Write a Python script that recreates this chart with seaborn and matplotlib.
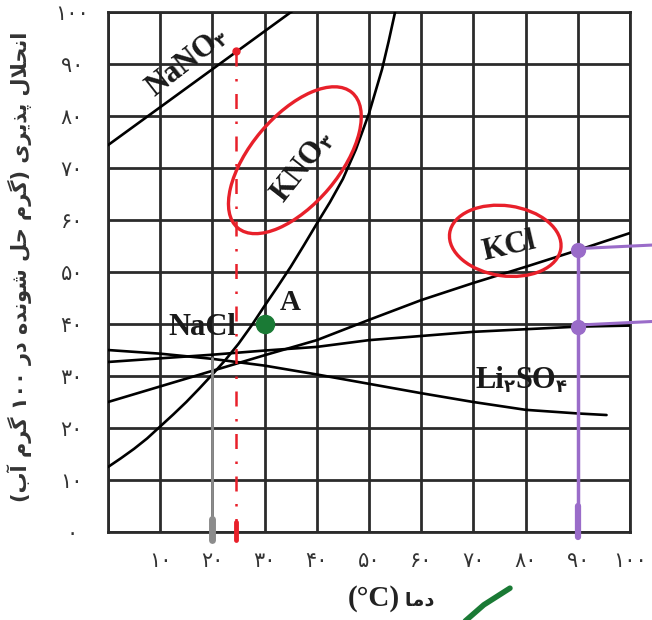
import re
import numpy as np
import pandas as pd
import matplotlib
matplotlib.use("Agg")
import matplotlib.pyplot as plt
import seaborn as sns
from matplotlib.patches import Ellipse
from matplotlib.transforms import offset_copy

# ================= DADOS =================
NANO3_T = [0, 10, 20, 30, 40]
NANO3_S = [74.4, 81.7, 89.0, 96.3, 103.6]

KNO3_T = [0, 2.5, 5, 7.5, 10, 12.5, 15, 17.5, 20, 22.5, 25, 27.5, 30, 32.5, 35,
          37.5, 40, 42.5, 45, 47.5, 50, 52.5, 53.75, 55]
KNO3_S = [12.5, 14.2, 16.0, 18.0, 20.3, 22.6, 25.0, 27.6, 30.3, 33.1, 36.2, 39.7,
          43.5, 47.2, 51.0, 55.1, 59.3, 63.4, 67.9, 73.6, 80.5, 89.0, 94.3, 100.0]

KCL_T = [0, 10, 20, 30, 40, 50, 60, 70, 80, 90, 100]
KCL_S = [25.0, 28.0, 31.0, 34.0, 36.9, 40.8, 44.6, 47.9, 51.0, 54.2, 57.5]

NACL_T = [0, 10, 20, 30, 40, 50, 60, 70, 80, 90, 100]
NACL_S = [32.7, 33.4, 34.1, 34.9, 35.6, 36.9, 37.7, 38.5, 39.0, 39.5, 39.7]

LI2SO4_T = [0, 10, 20, 30, 40, 50, 60, 70, 80, 90, 95.5]
LI2SO4_S = [35.0, 34.3, 33.3, 32.0, 30.3, 28.5, 26.7, 25.0, 23.5, 22.8, 22.5]

X_TICKS = [10, 20, 30, 40, 50, 60, 70, 80, 90, 100]
Y_TICKS = [0, 10, 20, 30, 40, 50, 60, 70, 80, 90, 100]

# anotações feitas à mão sobre a figura
PONTO_A = (30, 40)
GUIA_VERMELHA_T = 24.5
GUIA_VERMELHA_S = (92.5, -1.5)
GUIA_CINZA_T = 20
GUIA_CINZA_S = (33.5, -1.5)
GUIA_ROXA_T = 90
GUIA_ROXA_S = (54.6, -1.0)
PONTOS_ROXOS_S = [54.2, 39.5]
ROXO_FIM_T = 104.5
TRACO_VERDE_T = [68, 72, 77]
TRACO_VERDE_S = [-17.5, -14.0, -10.8]

# ================= TEXTO PERSA =================
DIGITOS_FA = '۰۱۲۳۴۵۶۷۸۹'

def fa_num(n):
    return ''.join(DIGITOS_FA[int(d)] for d in str(n))

# formas: (isolada, final, inicial, medial)
FORMAS = {
    'ا': ('\ufe8d', '\ufe8e'),
    'آ': ('\ufe81', '\ufe82'),
    'ب': ('\ufe8f', '\ufe90', '\ufe91', '\ufe92'),
    'پ': ('\ufb56', '\ufb57', '\ufb58', '\ufb59'),
    'ح': ('\ufea1', '\ufea2', '\ufea3', '\ufea4'),
    'د': ('\ufea9', '\ufeaa'),
    'ذ': ('\ufeab', '\ufeac'),
    'ر': ('\ufead', '\ufeae'),
    'ش': ('\ufeb5', '\ufeb6', '\ufeb7', '\ufeb8'),
    'گ': ('\ufb92', '\ufb93', '\ufb94', '\ufb95'),
    'ل': ('\ufedd', '\ufede', '\ufedf', '\ufee0'),
    'م': ('\ufee1', '\ufee2', '\ufee3', '\ufee4'),
    'ن': ('\ufee5', '\ufee6', '\ufee7', '\ufee8'),
    'ه': ('\ufee9', '\ufeea', '\ufeeb', '\ufeec'),
    'و': ('\ufeed', '\ufeee'),
    'ی': ('\ufbfc', '\ufbfd', '\ufbfe', '\ufbff'),
}
LAM_ALEF = {'ا': ('\ufefb', '\ufefc'), 'آ': ('\ufef5', '\ufef6')}

def shape_fa(texto):
    """Liga as letras persas e devolve o texto em ordem visual (esq -> dir)."""
    out = []
    i = 0
    while i < len(texto):
        c = texto[i]
        if c not in FORMAS:
            out.append(c)
            i += 1
            continue
        ant = texto[i - 1] if i > 0 else ''
        liga_ant = ant in FORMAS and len(FORMAS[ant]) == 4
        prox = texto[i + 1] if i + 1 < len(texto) else ''
        if c == 'ل' and prox in LAM_ALEF:
            out.append(LAM_ALEF[prox][1 if liga_ant else 0])
            i += 2
            continue
        f = FORMAS[c]
        liga_prox = len(f) == 4 and prox in FORMAS
        if liga_ant and liga_prox:
            out.append(f[3])
        elif liga_ant:
            out.append(f[1])
        elif liga_prox:
            out.append(f[2])
        else:
            out.append(f[0])
        i += 1
    vis = ''.join(reversed(out))
    vis = re.sub('[۰-۹]+', lambda m: m.group(0)[::-1], vis)
    return vis.translate(str.maketrans('()', ')('))

# ================= PLOTAGEM =================
sns.set_theme(style="white")
plt.rcParams['font.family'] = ['DejaVu Sans']
SERIF = ['Liberation Serif', 'DejaVu Sans']

fig = plt.figure(figsize=(6.52, 6.2), dpi=100)
ax = fig.add_axes([0.1656, 0.1419, 0.8007, 0.8387])


def rotulo(x, y, partes, angulo=0, **kw):
    """Escreve pedaços de texto em sequência (com índices rebaixados),
    centrados na linha de base em (x, y). partes: (texto, tamanho, queda_px)."""
    r = fig.canvas.get_renderer()
    larg = []
    for txt, tam, _ in partes:
        t = ax.text(0, 0, txt, fontsize=tam, **kw)
        larg.append(t.get_window_extent(r).width)
        t.remove()
    ux, uy = np.cos(np.deg2rad(angulo)), np.sin(np.deg2rad(angulo))
    pos = -sum(larg) / 2
    for (txt, tam, queda), w in zip(partes, larg):
        tr = offset_copy(ax.transData, fig=fig, x=pos * ux + queda * uy,
                         y=pos * uy - queda * ux, units='dots')
        ax.text(x, y, txt, fontsize=tam, rotation=angulo, rotation_mode='anchor',
                ha='left', va='baseline', transform=tr, clip_on=False, **kw)
        pos += w


cor_grade = '#2b2b2b'
ax.set_xlim(0, 100)
ax.set_ylim(0, 100)
ax.set_xticks(X_TICKS)
ax.set_yticks(Y_TICKS)
ax.set_xticks([0], minor=True)
ax.grid(True, which='both', color=cor_grade, linewidth=2.0)
for sp in ax.spines.values():
    sp.set_color(cor_grade)
    sp.set_linewidth(2.0)

curvas = [(NANO3_T, NANO3_S), (KNO3_T, KNO3_S), (KCL_T, KCL_S),
          (NACL_T, NACL_S), (LI2SO4_T, LI2SO4_S)]
for t, s in curvas:
    sns.lineplot(x=t, y=s, ax=ax, color='black', linewidth=1.9, zorder=3)

ax.set_xticklabels([fa_num(v) for v in X_TICKS])
ax.set_yticklabels([fa_num(v) for v in Y_TICKS], ha='center')
ax.tick_params(axis='x', length=0, pad=14, labelsize=15, labelcolor='#333333')
ax.tick_params(axis='y', length=0, pad=26, labelsize=15, labelcolor='#333333')

ax.set_ylabel(shape_fa('انحلال پذیری (گرم حل شونده در ۱۰۰ گرم آب)'),
              fontsize=15, fontweight='bold', color='#333333')
ax.yaxis.set_label_coords(-0.146, 0.51)

# rótulo do eixo x: (°C) em serifa grande + دما menor
rotulo(54.2, -14.2, [('(°C)', 21, 0), (' ' + shape_fa('دما'), 14, 0)],
       family=SERIF, fontweight='bold', color='#222222')

# rótulos das curvas
estilo = dict(family=SERIF, fontweight='bold', color='#1a1a1a', zorder=4)
rotulo(15.9, 89.2, [('NaNO', 22, 0), ('۳', 13, 3)], angulo=38, **estilo)
rotulo(38.3, 69.4, [('KNO', 22, 0), ('۳', 13, 3)], angulo=52, **estilo)
rotulo(77.2, 53.5, [('KCl', 22, 0)], angulo=13, **estilo)
rotulo(18.0, 37.9, [('NaCl', 22, 0)], **estilo)
rotulo(79.1, 27.7, [('Li', 22, 0), ('۲', 13, 4), ('SO', 22, 0), ('۴', 13, 4)], **estilo)
rotulo(35.0, 42.7, [('A', 21, 0)], **estilo)

# anotações à mão
vermelho = '#e8202a'
ax.plot([GUIA_VERMELHA_T] * 2, GUIA_VERMELHA_S, color=vermelho, linewidth=1.8,
        linestyle=(0, (6, 5, 1, 5)), clip_on=False, zorder=5)
ax.plot(GUIA_VERMELHA_T, GUIA_VERMELHA_S[0], 'o', color=vermelho, markersize=5, zorder=5)
ax.plot([GUIA_VERMELHA_T] * 2, [2, -1.5], color=vermelho, linewidth=3.5,
        clip_on=False, zorder=5)
ax.add_patch(Ellipse((35.8, 71.5), 34, 17, angle=50, fill=False,
                     edgecolor=vermelho, linewidth=2.4, zorder=5))
ax.add_patch(Ellipse((76.1, 56.0), 21.5, 13.5, angle=-8, fill=False,
                     edgecolor=vermelho, linewidth=2.4, zorder=5))

ax.plot([GUIA_CINZA_T] * 2, GUIA_CINZA_S, color='#8c8c8c', linewidth=2,
        clip_on=False, zorder=5)
ax.plot([GUIA_CINZA_T] * 2, [2.5, -1.5], color='#8c8c8c', linewidth=5,
        clip_on=False, zorder=5)

ax.plot(*PONTO_A, 'o', color='#1a7a35', markersize=13, zorder=6)

cor_roxa = '#9a6cc9'
ax.plot([GUIA_ROXA_T] * 2, GUIA_ROXA_S, color=cor_roxa, linewidth=2.5,
        clip_on=False, zorder=5)
ax.plot([GUIA_ROXA_T] * 2, [5, -1.0], color=cor_roxa, linewidth=4.5,
        clip_on=False, zorder=5)
for s in PONTOS_ROXOS_S:
    ax.plot([GUIA_ROXA_T, ROXO_FIM_T], [s + 0.3, s + 1.0], color=cor_roxa,
            linewidth=2.2, clip_on=False, zorder=5)
ax.plot([GUIA_ROXA_T] * len(PONTOS_ROXOS_S), PONTOS_ROXOS_S, 'o', color=cor_roxa,
        markersize=10, clip_on=False, zorder=6)

ax.plot(TRACO_VERDE_T, TRACO_VERDE_S, color='#1a7a35', linewidth=4,
        clip_on=False, zorder=5, solid_capstyle='round')

fig.savefig('out.png', dpi=100)
